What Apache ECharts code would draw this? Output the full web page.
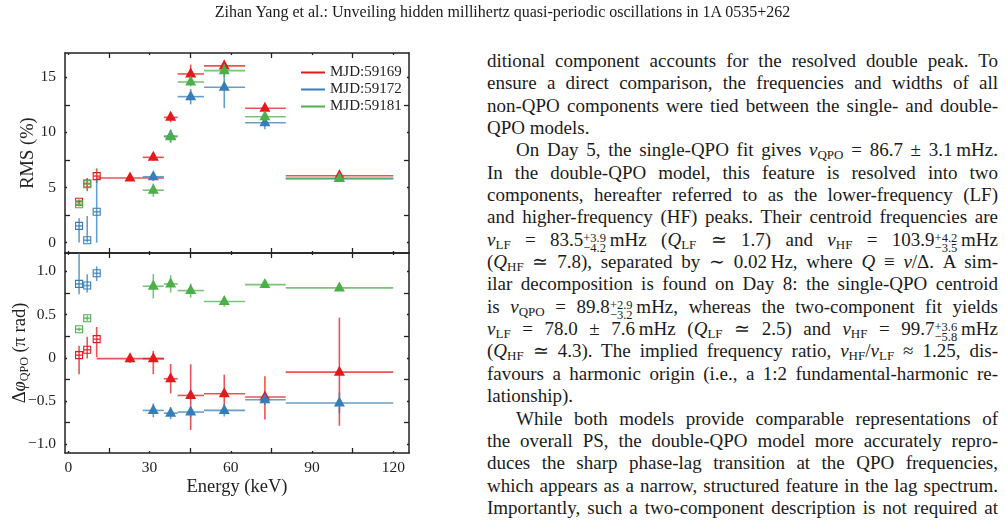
<!DOCTYPE html>
<html>
<head>
<meta charset="utf-8">
<title>RMS and phase lag of the QPO</title>
<script src="https://cdn.jsdelivr.net/npm/echarts@6/dist/echarts.min.js"></script>
<style>
  body { margin: 0; background: #fff; width: 1005px; height: 523px; overflow: hidden; position: relative;
         font-family: "Liberation Serif", "Times New Roman", serif; color: #1b1b1b; }
  #chart { position: absolute; left: 0; top: 0; width: 430px; height: 523px; z-index: 1; }
  #head { position: absolute; left: 0; top: 3px; width: 1005px; text-align: center; font-size: 16px; z-index: 2; }
  #text { position: absolute; left: 487px; top: 50px; width: 511px; font-size: 19px; }
  #text div { height: 22.35px; line-height: 22.35px; text-align: justify; text-align-last: justify; }
  #text div.end { text-align-last: left; }
  #text div.ind { text-indent: 29px; }
  .s { font-size: 13px; vertical-align: -3px; line-height: 0; }
  .st { display: inline-block; font-size: 12.5px; line-height: 10px; vertical-align: -6px; text-indent: 0; }
  i { font-style: italic; }
</style>
</head>
<body>
<div id="head">Zihan Yang et al.: Unveiling hidden millihertz quasi-periodic oscillations in 1A 0535+262</div>
<div id="chart"></div>
<div id="text">
  <div>ditional component accounts for the resolved double peak. To</div>
  <div>ensure a direct comparison, the frequencies and widths of all</div>
  <div>non-QPO components were tied between the single- and double-</div>
  <div class="end">QPO models.</div>
  <div class="ind">On Day 5, the single-QPO fit gives <i>ν</i><span class="s">QPO</span> = 86.7 ± 3.1&thinsp;mHz.</div>
  <div>In the double-QPO model, this feature is resolved into two</div>
  <div>components, hereafter referred to as the lower-frequency (LF)</div>
  <div>and higher-frequency (HF) peaks. Their centroid frequencies are</div>
  <div><i>ν</i><span class="s">LF</span> = 83.5<span class="st">+3.9<br>−4.2</span>&thinsp;mHz (<i>Q</i><span class="s">LF</span> ≃ 1.7) and <i>ν</i><span class="s">HF</span> = 103.9<span class="st">+4.2<br>−3.5</span>&thinsp;mHz</div>
  <div>(<i>Q</i><span class="s">HF</span> ≃ 7.8), separated by ∼ 0.02&thinsp;Hz, where <i>Q</i> ≡ <i>ν</i>/Δ. A sim-</div>
  <div>ilar decomposition is found on Day 8: the single-QPO centroid</div>
  <div>is <i>ν</i><span class="s">QPO</span> = 89.8<span class="st">+2.9<br>−3.2</span>&thinsp;mHz, whereas the two-component fit yields</div>
  <div><i>ν</i><span class="s">LF</span> = 78.0 ± 7.6&thinsp;mHz (<i>Q</i><span class="s">LF</span> ≃ 2.5) and <i>ν</i><span class="s">HF</span> = 99.7<span class="st">+3.6<br>−5.8</span>&thinsp;mHz</div>
  <div>(<i>Q</i><span class="s">HF</span> ≃ 4.3). The implied frequency ratio, <i>ν</i><span class="s">HF</span>/<i>ν</i><span class="s">LF</span> ≈ 1.25, dis-</div>
  <div>favours a harmonic origin (i.e., a 1:2 fundamental-harmonic re-</div>
  <div class="end">lationship).</div>
  <div class="ind">While both models provide comparable representations of</div>
  <div>the overall PS, the double-QPO model more accurately repro-</div>
  <div>duces the sharp phase-lag transition at the QPO frequencies,</div>
  <div>which appears as a narrow, structured feature in the lag spectrum.</div>
  <div>Importantly, such a two-component description is not required at</div>
</div>
<script>
  // energy bins (keV): centre, lower and upper edge; the first three are drawn as open squares
  var binMid = [4, 7, 10.5, 22.8, 31.4, 37.8, 45.2, 57.6, 72.6, 100.1];
  var binLo  = [2.8, 5.8, 9.3, 10.5, 27.5, 35.3, 40.4, 50.1, 65.3, 80.3];
  var binHi  = [5.2, 8.2, 11.7, 35.3, 35.3, 40.4, 50.1, 65.3, 80.3, 120];
  var squareBins = 3;

  var names = ['MJD:59169', 'MJD:59172', 'MJD:59181'];
  var colors = ['#e4191c', '#377eb8', '#4daf4a'];

  // RMS (%)
  var rms169   = [3.7, 5.36, 6.03, 5.85, 7.73, 11.36, 15.3, 16.03, 12.18, 6.06];
  var rms169Lo = [0.2, 0.7, 0.6, 0.2, 0.3, 0.45, 0.85, 0.5, 0.4, 0.4];
  var rms169Hi = [0.2, 0.5, 0.7, 0.2, 0.3, 0.45, 0.85, 0.5, 0.4, 0.4];
  var rms172   = [1.51, 0.21, 2.79, null, 5.97, 9.66, 13.24, 14.09, 10.87, 5.8];
  var rms172Lo = [1.5, 0.2, 2.8, null, 0.4, 0.6, 0.7, 1.9, 0.6, 0.3];
  var rms172Hi = [0.7, 2.2, 2.9, null, 0.4, 0.6, 0.7, 1.9, 0.6, 0.3];
  var rms181   = [3.48, 5.3, null, null, 4.75, 9.6, 14.57, 15.6, 11.42, 5.82];
  var rms181Lo = [0.2, 0.2, null, null, 0.6, 0.5, 0.4, 0.6, 0.4, 0.3];
  var rms181Hi = [0.2, 0.2, null, null, 0.6, 0.5, 0.4, 0.6, 0.4, 0.3];

  // phase lag (pi rad)
  var lag169   = [0.03, 0.092, 0.215, -0.01, -0.01, -0.242, -0.435, -0.415, -0.454, -0.166];
  var lag169Lo = [0.22, 0.1, 0.21, 0.05, 0.18, 0.17, 0.4, 0.22, 0.26, 0.62];
  var lag169Hi = [0.11, 0.15, 0.14, 0.05, 0.09, 0.17, 0.36, 0.22, 0.24, 0.63];
  var lag172   = [0.853, 0.834, 0.976, null, -0.608, -0.64, -0.627, -0.608, -0.485, -0.523];
  var lag172Lo = [0.12, 0.08, 0.09, null, 0.08, 0.07, 0.06, 0.07, 0.06, 0.12];
  var lag172Hi = [0.4, 0.13, 0.08, null, 0.08, 0.07, 0.06, 0.07, 0.06, 0.12];
  var lag181   = [0.33, 0.457, null, null, 0.826, 0.853, 0.776, 0.65, 0.845, 0.807];
  var lag181Lo = [0.02, 0.03, null, null, 0.14, 0.1, 0.08, 0.06, 0.02, 0.02];
  var lag181Hi = [0.02, 0.03, null, null, 0.14, 0.1, 0.08, 0.06, 0.02, 0.02];

  // tick positions
  var xLabelTicks = [0, 30, 60, 90, 120];
  var xOtherTicks = [15, 45, 75, 105];
  var rmsLabelTicks = [0, 5, 10, 15];
  var rmsOtherTicks = [2.5, 7.5, 12.5];
  var lagLabelTicks = [1, 0.5, 0, -0.5, -1];
  var lagOtherTicks = [0.75, 0.25, -0.25, -0.75];

  var font = '"Liberation Serif", "Times New Roman", serif';
  var ink = '#222';

  function rows(val, lo, hi) {
    var out = [];
    for (var i = 0; i < binMid.length; i++) {
      if (val[i] == null) continue;
      out.push([binMid[i], binLo[i], binHi[i], val[i], val[i] - lo[i], val[i] + hi[i], i < squareBins ? 1 : 0]);
    }
    return out;
  }

  function drawPoint(color) {
    return function (params, api) {
      var xc = api.value(0), y = api.value(3);
      var l = api.coord([api.value(1), y]), r = api.coord([api.value(2), y]);
      var b = api.coord([xc, api.value(4)]), t = api.coord([xc, api.value(5)]);
      var c = api.coord([xc, y]);
      var bar = { stroke: color, lineWidth: 1.6, opacity: 0.75 };
      var kids = [
        { type: 'line', shape: { x1: l[0], y1: l[1], x2: r[0], y2: r[1] }, style: bar },
        { type: 'line', shape: { x1: b[0], y1: b[1], x2: t[0], y2: t[1] }, style: bar }
      ];
      if (api.value(6)) {
        kids.push({ type: 'rect', shape: { x: c[0] - 3.5, y: c[1] - 3.5, width: 7, height: 7 },
                    style: { fill: 'none', stroke: color, lineWidth: 1.1 } });
      } else {
        kids.push({ type: 'polygon', shape: { points: [[c[0], c[1] - 6.5], [c[0] - 5.5, c[1] + 3.5], [c[0] + 5.5, c[1] + 3.5]] },
                    style: { fill: color } });
      }
      return { type: 'group', children: kids };
    };
  }

  function xAx(grid, pos, ticks, len, line, labels) {
    return {
      type: 'value', gridIndex: grid, position: pos, min: -1.2, max: 125.8,
      axisLine: { show: line, onZero: false, lineStyle: { color: ink, width: 1.5 } },
      axisTick: { show: true, inside: true, length: len, customValues: ticks, lineStyle: { color: ink, width: 1.3 } },
      axisLabel: labels ? { show: true, customValues: xLabelTicks, margin: 7, fontFamily: font, fontSize: 15.5, color: ink }
                        : { show: false },
      splitLine: { show: false }
    };
  }

  function yAx(grid, pos, range, ticks, len, line, labels, fmt) {
    return {
      type: 'value', gridIndex: grid, position: pos, min: range[0], max: range[1],
      axisLine: { show: line, onZero: false, lineStyle: { color: ink, width: 1.5 } },
      axisTick: { show: true, inside: true, length: len, customValues: ticks, lineStyle: { color: ink, width: 1.3 } },
      axisLabel: labels ? { show: true, customValues: labels, margin: 9, fontFamily: font, fontSize: 15.5, color: ink, formatter: fmt }
                        : { show: false },
      splitLine: { show: false }
    };
  }

  var rmsRange = [-0.95, 17.2];
  var lagRange = [-1.1, 1.21];
  var fmtRms = function (v) { return String(v); };
  var fmtLag = function (v) { return v === 0 ? '0' : (v < 0 ? '\u2212' : '') + Math.abs(v).toFixed(1); };

  var xAxes = [
    xAx(0, 'bottom', xOtherTicks, 5, true, false),
    xAx(0, 'bottom', xLabelTicks, 2, false, false),
    xAx(0, 'top', xOtherTicks, 5, true, false),
    xAx(0, 'top', xLabelTicks, 2, false, false),
    xAx(1, 'bottom', xOtherTicks, 5, true, true),
    xAx(1, 'bottom', xLabelTicks, 2, false, false),
    xAx(1, 'top', xOtherTicks, 5, true, false),
    xAx(1, 'top', xLabelTicks, 2, false, false)
  ];
  xAxes[4].name = 'Energy (keV)';
  xAxes[4].nameLocation = 'middle';
  xAxes[4].nameGap = 25;
  xAxes[4].nameMoveOverlap = false;
  xAxes[4].nameTextStyle = { fontFamily: font, fontSize: 18.5, color: ink };

  var yAxes = [
    yAx(0, 'left', rmsRange, rmsLabelTicks, 2, true, rmsLabelTicks, fmtRms),
    yAx(0, 'left', rmsRange, rmsOtherTicks, 5, false, null),
    yAx(0, 'right', rmsRange, rmsOtherTicks, 5, true, null),
    yAx(0, 'right', rmsRange, rmsLabelTicks, 2, false, null),
    yAx(1, 'left', lagRange, lagLabelTicks, 2, true, lagLabelTicks, fmtLag),
    yAx(1, 'left', lagRange, lagOtherTicks, 5, false, null),
    yAx(1, 'right', lagRange, lagOtherTicks, 5, true, null),
    yAx(1, 'right', lagRange, lagLabelTicks, 2, false, null)
  ];
  yAxes[0].name = 'RMS (%)';
  yAxes[0].nameLocation = 'middle';
  yAxes[0].nameGap = 27;
  yAxes[0].nameMoveOverlap = false;
  yAxes[0].nameTextStyle = { fontFamily: font, fontSize: 18.5, color: ink };
  yAxes[4].name = '{a|Δ}{p|φ}{s|QPO}{a| (π rad)}';
  yAxes[4].nameLocation = 'middle';
  yAxes[4].nameGap = 34;
  yAxes[4].nameMoveOverlap = false;
  yAxes[4].nameTextStyle = {
    fontFamily: font, fontSize: 18.5, color: ink,
    rich: {
      a: { fontFamily: font, fontSize: 18.5, color: ink, lineHeight: 22 },
      p: { fontFamily: font, fontSize: 18.5, color: ink, fontStyle: 'italic', lineHeight: 22 },
      s: { fontFamily: font, fontSize: 12, color: ink, lineHeight: 11, verticalAlign: 'bottom' }
    }
  };

  var rmsSets = [[rms169, rms169Lo, rms169Hi], [rms172, rms172Lo, rms172Hi], [rms181, rms181Lo, rms181Hi]];
  var lagSets = [[lag169, lag169Lo, lag169Hi], [lag172, lag172Lo, lag172Hi], [lag181, lag181Lo, lag181Hi]];
  var series = [];
  rmsSets.forEach(function (s, k) {
    series.push({ type: 'custom', name: names[k], xAxisIndex: 0, yAxisIndex: 0, clip: true,
                  itemStyle: { color: colors[k] }, renderItem: drawPoint(colors[k]),
                  encode: { x: [0, 1, 2], y: [3, 4, 5] }, data: rows(s[0], s[1], s[2]) });
  });
  lagSets.forEach(function (s, k) {
    series.push({ type: 'custom', name: names[k], xAxisIndex: 4, yAxisIndex: 4, clip: true,
                  itemStyle: { color: colors[k] }, renderItem: drawPoint(colors[k]),
                  encode: { x: [0, 1, 2], y: [3, 4, 5] }, data: rows(s[0], s[1], s[2]) });
  });

  var chart = echarts.init(document.getElementById('chart'), null, { renderer: 'canvas' });
  chart.setOption({
    animation: false,
    grid: [
      { left: 65, top: 53, width: 344, height: 200, outerBoundsMode: 'none' },
      { left: 65, top: 253, width: 344, height: 200, outerBoundsMode: 'none' }
    ],
    legend: {
      data: names, orient: 'vertical', left: 296, top: 60, icon: 'rect',
      itemWidth: 24, itemHeight: 2, itemGap: 2, selectedMode: false,
      textStyle: { fontFamily: font, fontSize: 15, color: ink }
    },
    xAxis: xAxes,
    yAxis: yAxes,
    series: series
  });
</script>
</body>
</html>
